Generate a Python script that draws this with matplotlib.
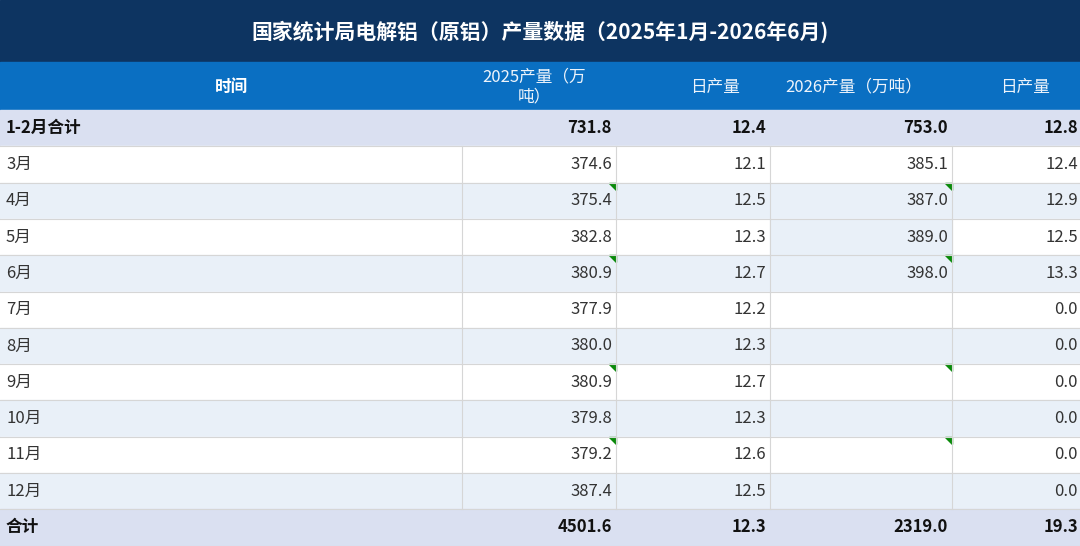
import matplotlib.pyplot as plt
from matplotlib.patches import Rectangle, Polygon

plt.rcParams['font.family'] = ['Noto Sans CJK SC', 'DejaVu Sans']

# 数据
judul = "国家统计局电解铝（原铝）产量数据（2025年1月-2026年6月)"
kolom = ["时间", "2025产量（万\n吨）", "日产量", "2026产量（万吨）", "日产量"]
bulan = ["1-2月合计", "3月", "4月", "5月", "6月", "7月", "8月", "9月",
         "10月", "11月", "12月", "合计"]
produksi_2025 = ["731.8", "374.6", "375.4", "382.8", "380.9", "377.9", "380.0",
                 "380.9", "379.8", "379.2", "387.4", "4501.6"]
harian_2025 = ["12.4", "12.1", "12.5", "12.3", "12.7", "12.2", "12.3", "12.7",
               "12.3", "12.6", "12.5", "12.3"]
produksi_2026 = ["753.0", "385.1", "387.0", "389.0", "398.0", "", "", "", "",
                 "", "", "2319.0"]
harian_2026 = ["12.8", "12.4", "12.9", "12.5", "13.3", "0.0", "0.0", "0.0",
               "0.0", "0.0", "0.0", "19.3"]
segitiga = ["4月", "6月", "9月", "11月"]

W, H = 1080, 546
fig = plt.figure(figsize=(W / 100, H / 100), dpi=100)
ax = fig.add_axes([0, 0, 1, 1])
ax.set_xlim(0, W)
ax.set_ylim(H, 0)
ax.axis("off")

batas_x = [0, 462, 616, 770, 952, 1080]
teks = "#333333"

# Judul
ax.add_patch(Rectangle((0, 0), W, 62, color="#0d3461"))
ax.text(W / 2, 32, judul, color="white", fontsize=15, fontweight="bold",
        ha="center", va="center")

# Header
ax.add_patch(Rectangle((0, 62), W, 48, color="#0a6fc2"))
for i, k in enumerate(kolom):
    if i == 0:
        ax.text(231, 87, k, color="white", fontsize=12, fontweight="bold",
                ha="center", va="center")
    else:
        ax.text(batas_x[i + 1] - 30, 87, k, color="#eef4fb", fontsize=12,
                ha="right", va="center", multialignment="center")

# Baris data
y0, tinggi = 110, 36.3
for r, b in enumerate(bulan):
    y = y0 + r * tinggi
    tebal = r == 0 or r == len(bulan) - 1
    if tebal:
        warna = "#dae0f1"
    elif r % 2 == 1:
        warna = "white"
    else:
        warna = "#e9f0f8"
    ax.add_patch(Rectangle((0, y), W, tinggi, color=warna))
    if b == "5月":
        ax.add_patch(Rectangle((770, y), 182, tinggi, color="#e9f0f8"))
    ax.plot([0, W], [y + tinggi, y + tinggi], color="#d6d6d6", lw=0.8)
    if not tebal:
        for x in batas_x[1:-1]:
            ax.plot([x, x], [y, y + tinggi], color="#d6d6d6", lw=0.8)
    fw = "bold" if tebal else "normal"
    warna_teks = "#111111" if tebal else teks
    ax.text(6, y + tinggi / 2, b, fontsize=12, fontweight=fw, color=warna_teks,
            va="center", ha="left")
    nilai = [produksi_2025[r], harian_2025[r], produksi_2026[r], harian_2026[r]]
    for i, v in enumerate(nilai):
        ax.text(batas_x[i + 2] - 4 if i < 3 else W - 2, y + tinggi / 2, v,
                fontsize=12, fontweight=fw, color=warna_teks,
                va="center", ha="right")
    if b in segitiga:
        for x in (616, 952):
            ax.add_patch(Polygon([[x - 7, y], [x, y], [x, y + 7]],
                                 color="#0a8a0a"))

fig.savefig("out.png", dpi=100)
